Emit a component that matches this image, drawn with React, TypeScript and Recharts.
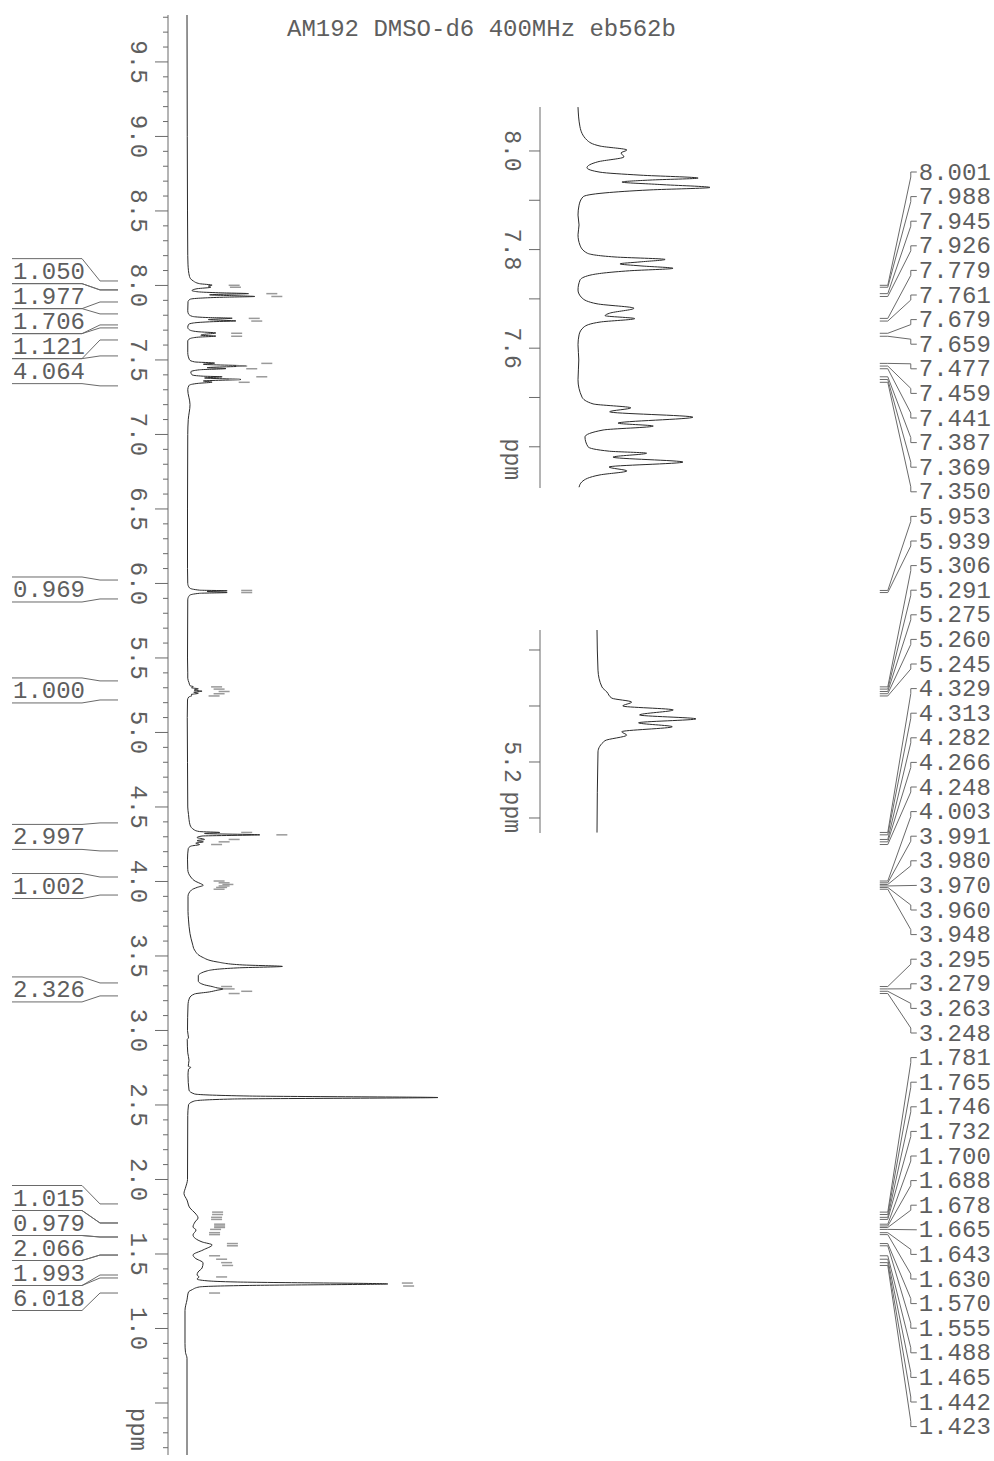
// 1H NMR spectrum (AM192, DMSO-d6, 400 MHz) drawn sideways:
// ppm runs down the page, intensity runs to the right.
// Main trace + two zoomed insets + integral labels (left) + peak list (right).

import { LineChart, Line, XAxis, YAxis, ReferenceDot, ReferenceArea } from 'recharts'

// ── Data ─────────────────────────────────────────────────────────────────────
// main trace: [ppm, intensity] with the DMSO peak = 100
const mainTrace: [number, number][] = [
  [9.815, 0], [9.0, 0.1], [8.5, 0.2], [8.2, 0.3],
  [8.138, 0.4], [8.06, 1], [8.03, 2.5], [8.012, 5], [8.002, 10], [7.996, 8.5], [7.988, 9.5],
  [7.978, 4], [7.966, 2], [7.957, 4.5], [7.951, 12.5], [7.945, 24.5], [7.941, 14.5], [7.937, 9],
  [7.932, 17], [7.926, 27], [7.921, 14.5], [7.915, 5.5], [7.907, 1.2], [7.89, 0.4], [7.83, 0.3],
  [7.809, 0.6], [7.793, 2], [7.785, 7.5], [7.78, 18], [7.775, 12.5], [7.771, 8.5], [7.767, 12.5],
  [7.762, 19.5], [7.757, 10.5], [7.748, 2.5], [7.738, 0.6], [7.718, 0.3], [7.702, 1], [7.69, 4],
  [7.681, 11.5], [7.671, 6.5], [7.666, 5.5], [7.66, 11.5], [7.653, 4.5], [7.643, 1.2], [7.627, 0.3],
  [7.55, 0.3], [7.501, 1], [7.487, 3], [7.479, 11], [7.471, 6.5], [7.46, 23.5], [7.448, 8],
  [7.442, 15.5], [7.434, 5], [7.42, 1.5], [7.4, 2], [7.391, 6.5], [7.387, 14], [7.379, 7],
  [7.369, 21.5], [7.359, 6.5], [7.351, 10], [7.343, 4.5], [7.329, 0.8], [7.3, 0.3], [7.2, 1.2],
  [7.1, 0.5], [7.0, 0.3], [6.5, 0.2], [6.1, 0.2],
  [6.0, 0.3], [5.97, 1], [5.955, 5], [5.951, 16], [5.946, 8], [5.939, 16], [5.934, 5], [5.92, 1],
  [5.89, 0.3], [5.5, 0.2], [5.4, 0.3],
  [5.364, 0.3], [5.334, 0.8], [5.314, 1.2], [5.307, 2.5], [5.3, 1.8], [5.293, 4.5], [5.284, 2.8],
  [5.277, 6], [5.27, 2.7], [5.263, 4.5], [5.254, 1.6], [5.248, 2], [5.238, 0.7], [5.218, 0.2],
  [5.1, 0.1], [4.8, 0.2], [4.5, 0.3],
  [4.45, 0.6], [4.38, 1.2], [4.345, 3], [4.335, 5], [4.329, 13], [4.322, 7], [4.313, 29], [4.305, 6],
  [4.295, 4], [4.282, 7], [4.274, 4], [4.266, 6.5], [4.257, 3.5], [4.248, 5], [4.237, 1.5],
  [4.22, 0.5], [4.15, 0.2],
  [4.08, 0.3], [4.03, 1.5], [4.0, 3.5], [3.985, 5.5], [3.975, 6.5], [3.96, 4], [3.943, 1.8],
  [3.9, 0.4], [3.8, 0.4], [3.742, 0.6],
  [3.65, 1.2], [3.58, 2.2], [3.54, 3], [3.493, 6], [3.46, 12], [3.44, 22], [3.43, 38], [3.42, 20],
  [3.4, 8], [3.366, 4.5], [3.332, 4.5], [3.306, 7], [3.295, 10], [3.286, 12], [3.279, 14.5],
  [3.27, 12], [3.259, 9], [3.245, 3], [3.218, 1], [3.171, 0.4], [3.0, 0.2], [2.95, 0.6],
  [2.94, 0.1], [2.85, 0.3], [2.8, 0.8], [2.76, 0.5], [2.752, 1.5], [2.74, 0.6], [2.7, 0.4],
  [2.6, 0.8],
  [2.574, 3], [2.56, 25], [2.55, 100], [2.54, 18], [2.527, 3], [2.5, 0.6], [2.43, 0.3], [2.0, 0.2],
  [1.95, -0.5], [1.906, -1.2], [1.862, 0],
  [1.808, 1.2], [1.775, 3.2], [1.742, 4.4], [1.715, 3.2], [1.681, 2.4], [1.661, 3.6], [1.628, 2.4],
  [1.581, 6], [1.561, 10], [1.527, 6.4], [1.493, 2.4], [1.473, 3.2], [1.44, 6.4], [1.406, 6],
  [1.379, 4.4], [1.359, 4], [1.346, 4.8], [1.332, 4], [1.32, 8], [1.312, 20], [1.299, 80],
  [1.289, 25], [1.279, 5], [1.26, 2], [1.245, 0.6], [1.192, 0], [1.12, -0.8], [0.9, -0.8],
  [0.84, -0.6], [0.8, 0], [0.5, 0], [0.151, 0],
]

// inset 1: aromatic region, tallest line = 100
const aromaticTrace: [number, number][] = [
  [8.089, 0], [8.049, 1.5], [8.022, 6.8], [8.01, 16.7], [8.002, 37], [7.996, 32.6], [7.988, 34.8],
  [7.978, 15], [7.966, 6.8], [7.957, 16.7], [7.951, 47], [7.945, 91], [7.941, 54.5], [7.937, 33.3],
  [7.932, 62], [7.926, 100], [7.921, 54.5], [7.915, 20.5], [7.907, 3.8], [7.89, 0.8], [7.87, 0],
  [7.85, 0.8], [7.83, 0], [7.809, 1.5], [7.793, 6.8], [7.785, 28], [7.78, 66], [7.775, 47],
  [7.771, 31.8], [7.767, 47], [7.762, 72], [7.757, 39], [7.748, 9], [7.738, 1.5], [7.718, 0],
  [7.702, 3], [7.69, 14.4], [7.681, 42.4], [7.671, 24], [7.666, 20.5], [7.66, 43], [7.653, 16.7],
  [7.643, 4.5], [7.627, 0.8], [7.607, 0], [7.576, 0.6], [7.536, 0], [7.501, 3], [7.487, 11.4],
  [7.479, 40], [7.471, 24], [7.46, 87], [7.448, 30.3], [7.442, 57], [7.434, 19], [7.42, 5.3],
  [7.4, 7.6], [7.391, 24], [7.387, 52], [7.379, 26.5], [7.369, 79.5], [7.359, 23.5], [7.351, 37],
  [7.343, 16.7], [7.329, 3], [7.318, 0.8],
]

// inset 2: the 5.27 ppm multiplet, tallest line = 100
const olefinTrace: [number, number][] = [
  [5.436, 0], [5.364, 1], [5.334, 5], [5.325, 10], [5.314, 15], [5.307, 35], [5.3, 26], [5.293, 77],
  [5.284, 43], [5.277, 100], [5.27, 42], [5.263, 76], [5.254, 25], [5.248, 30], [5.238, 8],
  [5.218, 1], [5.074, 0],
]

// integrals (ppm range) and their values
const integralFrom = [8.03, 7.97, 7.809, 7.715, 7.527, 6.023, 5.346, 4.393, 4.03, 3.319, 1.836, 1.708, 1.614, 1.493, 1.339]
const integralTo = [7.97, 7.889, 7.735, 7.634, 7.326, 5.896, 5.218, 4.205, 3.909, 3.232, 1.708, 1.614, 1.493, 1.359, 1.238]
const integralValues = ['1.050', '1.977', '1.706', '1.121', '4.064', '0.969', '1.000', '2.997', '1.002', '2.326', '1.015', '0.979', '2.066', '1.993', '6.018']

// picked peaks (listed on the right)
const peakList = [
  8.001, 7.988, 7.945, 7.926, 7.779, 7.761, 7.679, 7.659, 7.477, 7.459, 7.441, 7.387, 7.369, 7.350,
  5.953, 5.939, 5.306, 5.291, 5.275, 5.260, 5.245, 4.329, 4.313, 4.282, 4.266, 4.248,
  4.003, 3.991, 3.980, 3.970, 3.960, 3.948, 3.295, 3.279, 3.263, 3.248,
  1.781, 1.765, 1.746, 1.732, 1.700, 1.688, 1.678, 1.665, 1.643, 1.630, 1.570, 1.555,
  1.488, 1.465, 1.442, 1.423,
]

// grey peak-pick dashes next to the trace: [ppm, intensity where the dash starts]
const pickMarks: [number, number][] = [
  [8.001, 15], [7.988, 15.5], [7.945, 30], [7.926, 32], [7.779, 23], [7.761, 24], [7.679, 16], [7.659, 16],
  [7.477, 28], [7.459, 18], [7.441, 22], [7.387, 26], [7.369, 15], [7.35, 19],
  [5.953, 20], [5.939, 20], [5.306, 8], [5.291, 9], [5.275, 11], [5.26, 9], [5.245, 7],
  [4.329, 20], [4.313, 34], [4.282, 15], [4.266, 11], [4.248, 8],
  [4.003, 9], [3.991, 11], [3.98, 12.5], [3.97, 11], [3.96, 10], [3.948, 9],
  [3.295, 12], [3.279, 13], [3.263, 20], [3.248, 15],
  [1.781, 8.4], [1.765, 8.4], [1.746, 8], [1.732, 8], [1.7, 9.2], [1.688, 9.2], [1.678, 9.2], [1.665, 7.6],
  [1.643, 7.2], [1.63, 7.2], [1.57, 14.3], [1.555, 14.3], [1.488, 7.2], [1.465, 10], [1.442, 12], [1.423, 12.4],
  [1.346, 10], [1.305, 84], [1.285, 84.5], [1.238, 7.2],
]

// axis tick labels
const mainTickLabels = ['9.5', '9.0', '8.5', '8.0', '7.5', '7.0', '6.5', '6.0', '5.5', '5.0', '4.5', '4.0', '3.5', '3.0', '2.5', '2.0', '1.5', '1.0']
const aromaticTicks = [8.0, 7.9, 7.8, 7.7, 7.6, 7.5, 7.4]
const aromaticTickLabels = ['8.0', '7.8', '7.6']
const olefinTicks = [5.4, 5.3, 5.2, 5.1]
const olefinTickLabels = ['5.2']

// ── Layout / style ───────────────────────────────────────────────────────────
const FONT = '"Liberation Mono", "Courier New", monospace'
const INK = '#2b2b2b'
const GREY = '#5e5e5e'
const LINE = '#6a6a6a'
const MARK = '#9a9a9a'

const MAIN_W = 994
const MAIN_H = 1461
const MAIN_TOP = 15
const MAIN_BOTTOM_PAD = 6
const MAIN_DOMAIN: [number, number] = [0.151, 9.815]
const MAIN_PX_PER_PPM = (MAIN_H - MAIN_TOP - MAIN_BOTTOM_PAD) / (MAIN_DOMAIN[1] - MAIN_DOMAIN[0])

const LABEL_H = 25          // height of one integral label box
const LIST_TOP = 172        // first peak-list row
const LIST_STEP = 24.6      // peak-list row spacing
const LIST_TICK_I = 276     // intensity where the peak-list ticks sit

// main-axis minor ticks every 0.1 ppm
const mainTicks: number[] = []
for (let v = 98; v >= 2; v--) mainTicks.push(v / 10)
mainTicks.push(MAIN_DOMAIN[0])

// ── Integral label stacking ─────────────────────────────────────────────────
// Labels sit at their integral's centre, overlapping ones are merged into a
// centred stack.
function stackLabels(centers: number[], h: number): number[] {
  let groups = centers.map((c, k) => ({ idx: [k], mean: c }))
  let merged = true
  while (merged) {
    merged = false
    for (let g = 0; g < groups.length - 1; g++) {
      const a = groups[g]
      const b = groups[g + 1]
      if (a.mean - (a.idx.length * h) / 2 < b.mean + (b.idx.length * h) / 2) {
        const idx = [...a.idx, ...b.idx]
        const mean = idx.reduce((s, k) => s + centers[k], 0) / idx.length
        groups.splice(g, 2, { idx, mean })
        merged = true
        break
      }
    }
  }
  const out: number[] = new Array(centers.length)
  groups.forEach(g => g.idx.forEach((k, j) => {
    out[k] = g.mean + ((g.idx.length - 1) / 2 - j) * h
  }))
  return out
}

const integralLabelPpm = stackLabels(
  integralFrom.map((f, k) => (f + integralTo[k]) / 2),
  LABEL_H / MAIN_PX_PER_PPM,
)

// ── Axis tick renderer ──────────────────────────────────────────────────────
interface TickCfg {
  labels:   string[]
  isMajor:  (v: number) => boolean
  majorLen: number
  minorLen: number
  labelDx:  number
  fontSize: number
  unitAt:   number
  unitPad:  number
}

function makeTick(cfg: TickCfg) {
  return (p: any) => {
    const v: number = p.payload.value
    const x: number = p.x
    const y: number = p.y
    const lx = x - cfg.labelDx
    const textStyle = { fontFamily: FONT, fontSize: cfg.fontSize, fill: GREY }
    if (Math.abs(v - cfg.unitAt) < 1e-9) {
      const ty = y - cfg.unitPad
      return (
        <text x={lx} y={ty} transform={`rotate(90 ${lx} ${ty})`} textAnchor="end" dominantBaseline="central" style={textStyle}>
          ppm
        </text>
      )
    }
    const len = cfg.isMajor(v) ? cfg.majorLen : cfg.minorLen
    const txt = v.toFixed(1)
    return (
      <g>
        <line x1={x - len} x2={x} y1={y} y2={y} stroke={LINE} strokeWidth={1} />
        {cfg.labels.includes(txt) && (
          <text x={lx} y={y} transform={`rotate(90 ${lx} ${y})`} textAnchor="middle" dominantBaseline="central" style={textStyle}>
            {txt}
          </text>
        )}
      </g>
    )
  }
}

const mainTick = makeTick({
  labels: mainTickLabels,
  isMajor: v => Math.abs(v * 2 - Math.round(v * 2)) < 1e-6,
  majorLen: 13, minorLen: 5, labelDx: 31, fontSize: 24,
  unitAt: MAIN_DOMAIN[0], unitPad: 4,
})

// ── Shapes for the annotations ──────────────────────────────────────────────
function integralShape(k: number) {
  return (p: any) => {
    const y: number = p.y
    const h: number = p.height
    const pxPerPpm = h / (integralFrom[k] - integralTo[k])
    const mid = y + (integralFrom[k] - integralLabelPpm[k]) * pxPerPpm
    const top = mid - LABEL_H / 2
    const bot = mid + LABEL_H / 2
    const ax = p.x // plot left edge (axis line)
    return (
      <g>
        <polyline points={`${ax - 156},${top} ${ax - 86},${top} ${ax - 68},${y} ${ax - 50},${y}`} fill="none" stroke={LINE} strokeWidth={1} />
        <polyline points={`${ax - 156},${bot} ${ax - 86},${bot} ${ax - 68},${y + h} ${ax - 50},${y + h}`} fill="none" stroke={LINE} strokeWidth={1} />
        <text x={ax - 155} y={mid + 1} dominantBaseline="central" style={{ fontFamily: FONT, fontSize: 24, fill: GREY }}>
          {integralValues[k]}
        </text>
      </g>
    )
  }
}

function peakLabelShape(k: number) {
  return (p: any) => {
    const cx: number = p.cx
    const cy: number = p.cy
    const yL = LIST_TOP + k * LIST_STEP
    const dy = cy - yL
    const s = Math.abs(dy) < 4 ? 0 : Math.sign(dy)
    const pts = s === 0
      ? `${cx},${cy} ${cx + 8},${cy} ${cx + 37},${yL}`
      : `${cx},${cy} ${cx + 8},${cy} ${cx + 31},${yL + s * 5} ${cx + 31},${yL} ${cx + 37},${yL}`
    return (
      <g>
        <polyline points={pts} fill="none" stroke={LINE} strokeWidth={1} />
        <text x={cx + 39} y={yL + 1} dominantBaseline="central" style={{ fontFamily: FONT, fontSize: 24, fill: GREY }}>
          {peakList[k].toFixed(3)}
        </text>
      </g>
    )
  }
}

const markShape = (p: any) => (
  <line x1={p.cx + 4} x2={p.cx + 15} y1={p.cy} y2={p.cy} stroke={MARK} strokeWidth={1.5} />
)

// ── Inset chart ─────────────────────────────────────────────────────────────
interface InsetProps {
  trace:   [number, number][]
  domain:  [number, number]
  xDomain: [number, number]
  ticks:   number[]
  labels:  string[]
  left:    number
  top:     number
  height:  number
  marginTop: number
  marginBottom: number
  unitPad: number
}

function Inset({ trace, domain, xDomain, ticks, labels, left, top, height, marginTop, marginBottom, unitPad }: InsetProps) {
  const data = trace.map(([ppm, i]) => ({ ppm, i }))
  const tick = makeTick({
    labels, isMajor: () => true, majorLen: 11, minorLen: 11, labelDx: 29, fontSize: 23,
    unitAt: domain[0], unitPad,
  })
  return (
    <div style={{ position: 'absolute', left, top }}>
      <LineChart layout="vertical" width={320} height={height} data={data}
        margin={{ top: marginTop, right: 20, bottom: marginBottom, left: 0 }}>
        <XAxis type="number" dataKey="i" domain={xDomain} allowDataOverflow hide />
        <YAxis type="number" dataKey="ppm" domain={domain} allowDataOverflow width={100} reversed
          ticks={[...ticks, domain[0]]} interval={0} tickSize={0} tickMargin={0} tickLine={false}
          axisLine={{ stroke: LINE, strokeWidth: 1 }} tick={tick} />
        <Line type="monotone" dataKey="i" stroke={INK} strokeWidth={1} dot={false} isAnimationActive={false} />
      </LineChart>
    </div>
  )
}

// ─────────────────────────────────────────────────────────────────────────────
export default function App() {
  const mainData = mainTrace.map(([ppm, i]) => ({ ppm, i }))

  return (
    <div style={{ position: 'relative', width: MAIN_W, height: MAIN_H, background: '#fff', overflow: 'hidden' }}>
      <style>{'body{margin:0;background:#fff}'}</style>

      <LineChart layout="vertical" width={MAIN_W} height={MAIN_H} data={mainData}
        margin={{ top: MAIN_TOP, right: 0, bottom: MAIN_BOTTOM_PAD, left: 0 }}>
        <XAxis type="number" dataKey="i" domain={[-7.57, 321.5]} allowDataOverflow hide />
        <YAxis type="number" dataKey="ppm" domain={MAIN_DOMAIN} allowDataOverflow width={168} reversed
          ticks={mainTicks} interval={0} tickSize={0} tickMargin={0} tickLine={false}
          axisLine={{ stroke: LINE, strokeWidth: 1 }} tick={mainTick} />

        {integralValues.map((_, k) => (
          <ReferenceArea key={`int${k}`} y1={integralFrom[k]} y2={integralTo[k]} shape={integralShape(k)} />
        ))}

        {pickMarks.map(([ppm, i], k) => (
          <ReferenceDot key={`mk${k}`} x={i} y={ppm} shape={markShape} />
        ))}

        <Line type="monotone" dataKey="i" stroke={INK} strokeWidth={1} dot={false} isAnimationActive={false} />

        {peakList.map((ppm, k) => (
          <ReferenceDot key={`pk${k}`} x={LIST_TICK_I} y={ppm} shape={peakLabelShape(k)} />
        ))}
      </LineChart>

      {/* zoomed insets */}
      <Inset trace={aromaticTrace} domain={[7.3164, 8.0892]} xDomain={[-28.79, 122.73]}
        ticks={aromaticTicks} labels={aromaticTickLabels}
        left={440} top={0} height={520} marginTop={107} marginBottom={32} unitPad={8} />
      <Inset trace={olefinTrace} domain={[5.0732, 5.4357]} xDomain={[-57.58, 144.44]}
        ticks={olefinTicks} labels={olefinTickLabels}
        left={440} top={600} height={260} marginTop={30} marginBottom={27} unitPad={0} />

      {/* title */}
      <div style={{
        position: 'absolute', left: 287, top: 18, fontFamily: FONT, fontSize: 24,
        lineHeight: '24px', color: GREY, whiteSpace: 'pre',
      }}>
        AM192 DMSO-d6 400MHz eb562b
      </div>
    </div>
  )
}
